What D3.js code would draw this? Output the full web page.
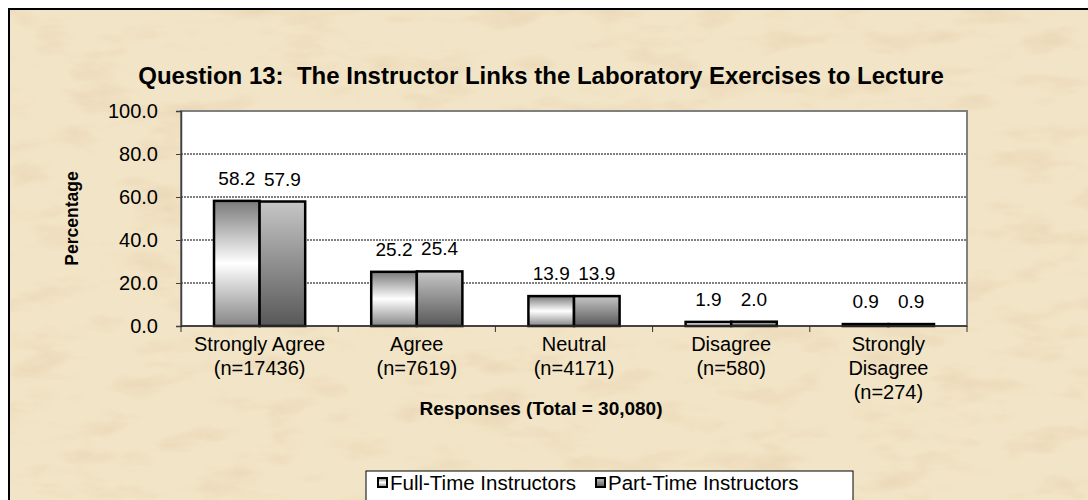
<!DOCTYPE html>
<html>
<head>
<meta charset="utf-8">
<script src="https://cdn.jsdelivr.net/npm/d3@7"></script>
<style>
  html, body { margin: 0; padding: 0; background: #fff; }
  svg { display: block; font-family: "Liberation Sans", Arial, sans-serif; }
  text { white-space: pre; }
</style>
</head>
<body>
<svg id="chart" width="1088" height="500"></svg>
<script>
// chart data
const categories = ["Strongly Agree", "Agree", "Neutral", "Disagree", "Strongly Disagree"];
const categoryLines = [
    ["Strongly Agree", "(n=17436)"],
    ["Agree", "(n=7619)"],
    ["Neutral", "(n=4171)"],
    ["Disagree", "(n=580)"],
    ["Strongly", "Disagree", "(n=274)"]
];
const seriesNames = ["Full-Time Instructors", "Part-Time Instructors"];
const fullTime = [58.2, 25.2, 13.9, 1.9, 0.9];
const partTime = [57.9, 25.4, 13.9, 2.0, 0.9];
const yTicks = [0, 20, 40, 60, 80, 100];

const title = "Question 13:  The Instructor Links the Laboratory Exercises to Lecture";
const yTitle = "Percentage";
const xTitle = "Responses (Total = 30,080)";

const svg = d3.select("#chart");
const W = 1088, H = 500;
const FS = 20; // normal label size

const defs = svg.append("defs");

// parchment texture
const f = defs.append("filter").attr("id", "paper")
    .attr("x", 0).attr("y", 0).attr("width", "100%").attr("height", "100%");
f.append("feTurbulence").attr("type", "fractalNoise")
    .attr("baseFrequency", "0.015 0.04").attr("numOctaves", 4).attr("seed", 7)
    .attr("result", "noise");
f.append("feColorMatrix").attr("in", "noise").attr("type", "matrix")
    .attr("values", "0 0 0 0 0.82  0 0 0 0 0.67  0 0 0 0 0.46  0 0 0 -2 1.05")
    .attr("result", "tint");
f.append("feComposite").attr("in", "tint").attr("in2", "SourceGraphic").attr("operator", "in");

const gFull = defs.append("linearGradient").attr("id", "gradFull")
    .attr("x1", 0).attr("y1", 0).attr("x2", 0).attr("y2", 1);
gFull.append("stop").attr("offset", "0%").attr("stop-color", "#7a7a7a");
gFull.append("stop").attr("offset", "50%").attr("stop-color", "#ffffff");
gFull.append("stop").attr("offset", "100%").attr("stop-color", "#868686");

const gPart = defs.append("linearGradient").attr("id", "gradPart")
    .attr("x1", 0).attr("y1", 0).attr("x2", 0).attr("y2", 1);
gPart.append("stop").attr("offset", "0%").attr("stop-color", "#c6c6c6");
gPart.append("stop").attr("offset", "100%").attr("stop-color", "#585858");

const fills = ["url(#gradFull)", "url(#gradPart)"];

// background
svg.append("rect").attr("x", 9).attr("y", 9).attr("width", W).attr("height", H)
    .attr("fill", "#f2e5c7");
svg.append("rect").attr("x", 9).attr("y", 9).attr("width", W).attr("height", H)
    .attr("fill", "#fff").attr("filter", "url(#paper)");
svg.append("rect").attr("x", 9).attr("y", 9).attr("width", W + 10).attr("height", H + 10)
    .attr("fill", "none").attr("stroke", "#000").attr("stroke-width", 2);

// plot area
const margin = { left: 181, right: 967, top: 111, bottom: 326 };

const y = d3.scaleLinear().domain([0, 100]).range([margin.bottom, margin.top]);
const x0 = d3.scaleBand().domain(categories).range([margin.left, margin.right]);
const groupW = x0.bandwidth() * 0.58;
const x1 = d3.scaleBand().domain(seriesNames)
    .range([(x0.bandwidth() - groupW) / 2, (x0.bandwidth() + groupW) / 2]);

svg.append("rect")
    .attr("x", margin.left).attr("y", margin.top)
    .attr("width", margin.right - margin.left).attr("height", margin.bottom - margin.top)
    .attr("fill", "#fff").attr("stroke", "#808080").attr("stroke-width", 2);

// gridlines
svg.append("g").selectAll("line")
    .data(yTicks.filter(d => d > 0 && d < 100))
    .join("line")
    .attr("x1", margin.left).attr("x2", margin.right)
    .attr("y1", d => y(d)).attr("y2", d => y(d))
    .attr("stroke", "#000").attr("stroke-width", 1).attr("stroke-dasharray", "2,1");

// y axis
const yAxis = svg.append("g")
    .attr("transform", `translate(${margin.left},0)`)
    .call(d3.axisLeft(y).tickValues(yTicks).tickFormat(d3.format(".1f")).tickSize(5).tickPadding(18));
yAxis.select(".domain").attr("stroke", "#404040").attr("stroke-width", 1.5);
yAxis.selectAll(".tick line").attr("stroke", "#404040");
yAxis.selectAll("text").attr("font-size", FS).attr("fill", "#000")
    .attr("font-family", "Liberation Sans, Arial, sans-serif");

// bars
const rows = categories.map((c, i) => ({ cat: c, vals: [fullTime[i], partTime[i]] }));
const groups = svg.append("g").selectAll("g")
    .data(rows).join("g")
    .attr("transform", d => `translate(${x0(d.cat)},0)`);

groups.selectAll("rect")
    .data(d => d.vals.map((v, j) => ({ s: seriesNames[j], v, j })))
    .join("rect")
    .attr("x", d => x1(d.s))
    .attr("width", x1.bandwidth())
    .attr("y", d => y(d.v))
    .attr("height", d => y(0) - y(d.v))
    .attr("fill", d => fills[d.j])
    .attr("stroke", "#000").attr("stroke-width", 2.5);

groups.selectAll("text.val")
    .data(d => d.vals.map((v, j) => ({ s: seriesNames[j], v })))
    .join("text")
    .attr("class", "val")
    .attr("x", d => x1(d.s) + x1.bandwidth() / 2)
    .attr("y", d => y(d.v) - 16)
    .attr("text-anchor", "middle")
    .attr("font-size", 19)
    .text(d => d.v.toFixed(1));

// x axis line and ticks
svg.append("line")
    .attr("x1", margin.left).attr("x2", margin.right)
    .attr("y1", margin.bottom).attr("y2", margin.bottom)
    .attr("stroke", "#303030").attr("stroke-width", 1.5);
const bounds = categories.map(c => x0(c)).concat([margin.right]);
svg.append("g").selectAll("line")
    .data(bounds).join("line")
    .attr("x1", d => d).attr("x2", d => d)
    .attr("y1", margin.bottom).attr("y2", margin.bottom + 6)
    .attr("stroke", "#303030").attr("stroke-width", 1);

// category labels
const catLabels = svg.append("g").selectAll("text")
    .data(categories).join("text")
    .attr("x", d => x0(d) + x0.bandwidth() / 2)
    .attr("y", 351)
    .attr("text-anchor", "middle")
    .attr("font-size", FS);
catLabels.selectAll("tspan")
    .data((d, i) => categoryLines[i])
    .join("tspan")
    .attr("x", function () { return this.parentNode.getAttribute("x"); })
    .attr("dy", (d, i) => i === 0 ? 0 : 24)
    .text(d => d);

// titles
svg.append("text")
    .attr("x", 541).attr("y", 84)
    .attr("text-anchor", "middle")
    .attr("font-size", 24).attr("font-weight", "bold")
    .text(title);

svg.append("text")
    .attr("transform", `translate(78,${(margin.top + margin.bottom) / 2}) rotate(-90)`)
    .attr("text-anchor", "middle")
    .attr("font-size", 17.5).attr("font-weight", "bold")
    .text(yTitle);

svg.append("text")
    .attr("x", 541).attr("y", 415)
    .attr("text-anchor", "middle")
    .attr("font-size", 19).attr("font-weight", "bold")
    .text(xTitle);

// legend
const legend = svg.append("g");
legend.append("rect")
    .attr("x", 366).attr("y", 471).attr("width", 487).attr("height", 40)
    .attr("fill", "#fff").attr("stroke", "#000").attr("stroke-width", 1);
const legX = [378, 596];
seriesNames.forEach((name, j) => {
    legend.append("rect")
        .attr("x", legX[j]).attr("y", 478).attr("width", 9).attr("height", 9)
        .attr("fill", fills[j]).attr("stroke", "#000").attr("stroke-width", 2);
    legend.append("text")
        .attr("x", legX[j] + 12).attr("y", 490)
        .attr("font-size", 20.5)
        .text(name);
});
</script>
</body>
</html>
